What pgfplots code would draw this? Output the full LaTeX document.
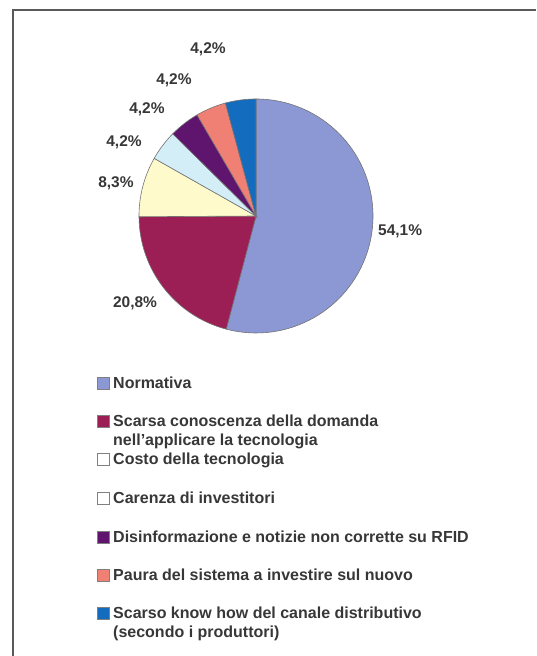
\documentclass[border=0pt]{standalone}
\usepackage{fontspec}
\setmainfont{Liberation Sans}
\usepackage{pgfplots}
\usepackage{pgfplotstable}
\pgfplotsset{compat=1.18}

\definecolor{pie0}{RGB}{140,152,212}
\definecolor{pie1}{RGB}{155,30,85}
\definecolor{pie2}{RGB}{255,250,204}
\definecolor{pie3}{RGB}{212,238,248}
\definecolor{pie4}{RGB}{95,20,110}
\definecolor{pie5}{RGB}{240,128,115}
\definecolor{pie6}{RGB}{20,108,190}
\definecolor{txt}{RGB}{55,55,55}

% value = share in %, lx/ly = label position (radius = 1)
\pgfplotstableread{
value lx ly
54.1 1.232 -0.128
20.8 -1.034 -0.744
8.3 -1.197 0.282
4.2 -1.128 0.632
4.2 -0.932 0.915
4.2 -0.701 1.162
4.2 -0.410 1.427
}\piedata

\begin{document}
\begin{tikzpicture}[
    lbl/.style={font=\fontsize{15.5}{18}\selectfont\bfseries, text=txt, inner sep=0pt},
    lgd/.style={font=\fontsize{16}{19}\selectfont\bfseries, text=txt, inner sep=0pt, anchor=base west},
    mk/.style={draw=black!50, line width=0.5pt},
]
\useasboundingbox (0pt,0pt) rectangle (536pt,656pt);

% frame
\draw[line width=1.4pt, black!65] (13pt,0pt) -- (13pt,646pt) -- (536pt,646pt);

\begin{axis}[
    hide axis,
    clip=false,
    x=117pt, y=117pt,
    xmin=-1.6, xmax=1.6,
    ymin=-1.6, ymax=1.6,
    anchor=center,
    at={(256pt,440pt)},
]
\def\angA{90}
\pgfplotsforeachungrouped \i in {0,...,6}{
  \pgfplotstablegetelem{\i}{value}\of\piedata \let\v\pgfplotsretval
  \pgfplotstablegetelem{\i}{lx}\of\piedata \let\lx\pgfplotsretval
  \pgfplotstablegetelem{\i}{ly}\of\piedata \let\ly\pgfplotsretval
  \pgfmathsetmacro\angB{\angA-3.6*\v}
  \edef\temp{%
    \noexpand\filldraw[fill=pie\i, draw=black!55, line width=0.6pt]
      (axis cs:0,0) -- (axis cs:{cos(\angA)},{sin(\angA)})
      arc[start angle=\angA, end angle=\angB, radius=117pt] -- cycle;
    \noexpand\node[lbl] at (axis cs:\lx,\ly)
      {\noexpand\pgfmathprintnumber[use comma,fixed,fixed zerofill,precision=1,assume math mode=true]{\v}\noexpand\%};
  }
  \temp
  \let\angA\angB
}
\end{axis}

% legend
\filldraw[mk, fill=pie0] (97.5pt,267pt) rectangle (109.5pt,279pt);
\filldraw[mk, fill=pie1] (97.5pt,229pt) rectangle (109.5pt,241pt);
\filldraw[mk, fill=white] (97.5pt,191pt) rectangle (109.5pt,203pt);
\filldraw[mk, fill=white] (97.5pt,152pt) rectangle (109.5pt,164pt);
\filldraw[mk, fill=pie4] (97.5pt,113pt) rectangle (109.5pt,125pt);
\filldraw[mk, fill=pie5] (97.5pt,75pt) rectangle (109.5pt,87pt);
\filldraw[mk, fill=pie6] (97.5pt,37pt) rectangle (109.5pt,49pt);

\node[lgd] at (113pt,267.5pt) {Normativa};
\node[lgd] at (113pt,229.5pt) {Scarsa conoscenza della domanda};
\node[lgd] at (113pt,210pt) {nell\char"27 applicare la tecnologia};
\node[lgd] at (113pt,191.5pt) {Costo della tecnologia};
\node[lgd] at (113pt,152.5pt) {Carenza di investitori};
\node[lgd] at (113pt,113.5pt) {Disinformazione e notizie non corrette su RFID};
\node[lgd] at (113pt,75.5pt) {Paura del sistema a investire sul nuovo};
\node[lgd] at (113pt,37.5pt) {Scarso know how del canale distributivo};
\node[lgd] at (113pt,18pt) {(secondo i produttori)};
\end{tikzpicture}
\end{document}
